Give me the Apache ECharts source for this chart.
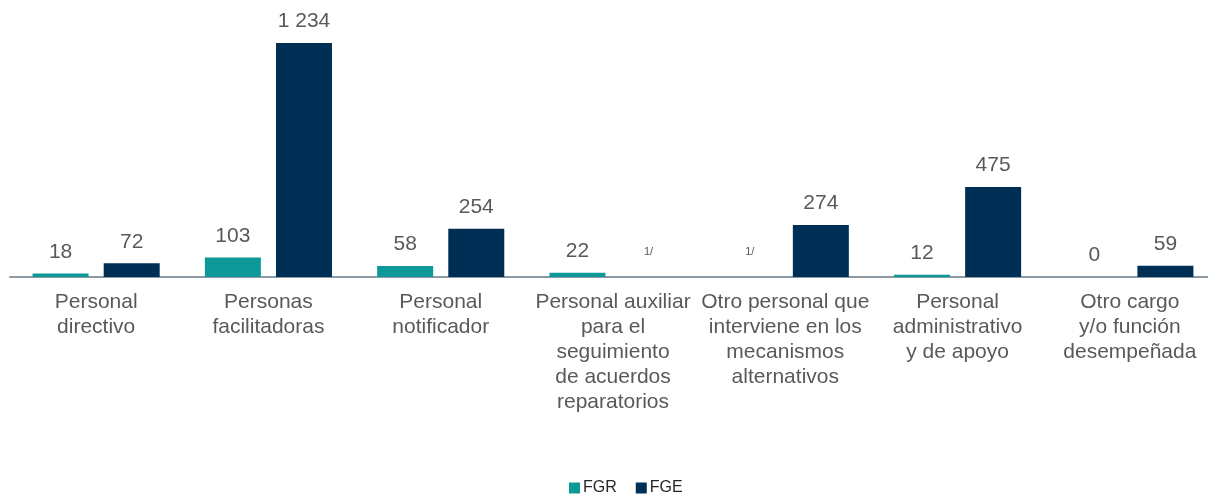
<!DOCTYPE html>
<html>
<head>
<meta charset="utf-8">
<script src="https://cdn.jsdelivr.net/npm/echarts@6/dist/echarts.min.js"></script>
<style>
  html, body { margin: 0; padding: 0; background: #fff; }
  #chart { width: 1208px; height: 497px; }
</style>
</head>
<body>
<div id="chart"></div>
<script>
var categories = [
    'Personal\ndirectivo',
    'Personas\nfacilitadoras',
    'Personal\nnotificador',
    'Personal auxiliar\npara el\nseguimiento\nde acuerdos\nreparatorios',
    'Otro personal que\ninterviene en los\nmecanismos\nalternativos',
    'Personal\nadministrativo\ny de apoyo',
    'Otro cargo\ny/o función\ndesempeñada'
];
// null = no disponible (nota 1/)
var fgrValues = [18, 103, 58, 22, null, 12, 0];
var fgeValues = [72, 1234, 254, null, 274, 475, 59];
var noteLabel = '1/';

function buildData(values) {
    return values.map(function (v) {
        if (v === null) {
            return {
                value: 0,
                label: { formatter: noteLabel, fontSize: 11, distance: 20 }
            };
        }
        return v;
    });
}

var labelStyle = {
    show: true,
    position: 'top',
    distance: 11,
    fontFamily: 'Liberation Sans',
    fontSize: 21,
    color: '#595959',
    formatter: function (p) {
        return String(p.value).replace(/\B(?=(\d{3})+(?!\d))/g, ' ');
    }
};

var chart = echarts.init(document.getElementById('chart'));
chart.setOption({
    animation: false,
    textStyle: { fontFamily: 'Liberation Sans' },
    legend: {
        top: 475,
        left: 564,
        itemWidth: 11,
        itemHeight: 11,
        itemGap: 19,
        icon: 'rect',
        textStyle: { fontSize: 16, color: '#262626', padding: [0, 0, 0, -2] },
        data: ['FGR', 'FGE']
    },
    grid: {
        left: 10,
        width: 1206,
        top: 43,
        height: 234,
        outerBoundsMode: 'none',
        containLabel: false
    },
    xAxis: {
        type: 'category',
        data: categories,
        axisLine: { lineStyle: { color: '#8c9aa6', width: 2 } },
        axisTick: { show: false },
        axisLabel: {
            interval: 0,
            fontSize: 21,
            lineHeight: 25,
            color: '#595959',
            margin: 13
        }
    },
    yAxis: {
        type: 'value',
        min: 0,
        max: 1234,
        show: false,
        splitLine: { show: false }
    },
    series: [{
        name: 'FGR',
        type: 'bar',
        barWidth: 56,
        barGap: '27%',
        itemStyle: { color: '#0e9999' },
        label: labelStyle,
        data: buildData(fgrValues)
    }, {
        name: 'FGE',
        type: 'bar',
        barWidth: 56,
        itemStyle: { color: '#002f56' },
        label: labelStyle,
        data: buildData(fgeValues)
    }]
});
</script>
</body>
</html>
